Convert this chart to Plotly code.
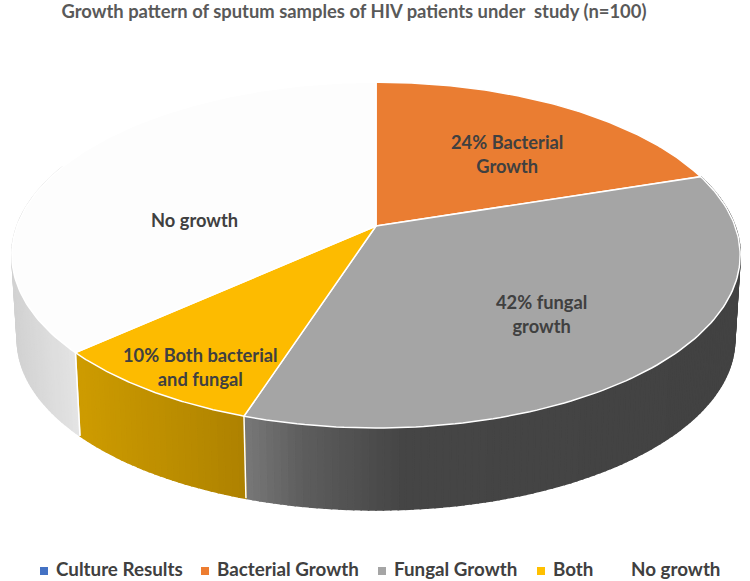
import numpy as np
import plotly.graph_objects as go

# --- data -------------------------------------------------------------
legend_names = ["Culture Results", "Bacterial Growth", "Fungal Growth", "Both", "No growth"]
legend_colors = ["#4472C4", "#ED7D31", "#A5A5A5", "#FFC000", "#FFFFFF"]
slice_names = ["Bacterial Growth", "Fungal Growth", "Both", "No growth"]
slice_values = [24, 42, 10, 44]
slice_colors = ["#EA7D32", "#A5A5A5", "#FDBB00", "#FDFDFD"]
title_text = "Growth pattern of sputum samples of HIV patients under  study (n=100)"
label_texts = ["24% Bacterial<br>Growth", "42% fungal<br>growth", "10% Both bacterial<br>and fungal", "No growth"]

# --- layout / style ---------------------------------------------------
label_xy = [(507, 154), (541, 314), (200, 367), (194, 220)]
legend_marker_x = [44, 205, 382, 541, 619]
legend_text_x = [56, 217, 394, 553, 631]
LEGEND_Y = 571
wall_stops = {
    "Fungal Growth": ([245, 300, 400, 760], ["#787878", "#5E5E5E", "#464646", "#424242"]),
    "Both": ([77, 245], ["#CE9C00", "#AE8200"]),
    "No growth": ([10, 80], ["#D2D2D2", "#E6E6E6"]),
}
CX, CY, A, B, K = 376.0, 226.0, 359.0, 168.0, 0.168
CY_LOW, SHRINK = 311.0, 0.985


def top(theta):
    u, v = np.sin(theta), np.cos(theta)
    w = 1 + K * v
    return CX + A * u / w, CY - B * v / w


def low(theta):
    u, v = np.sin(theta), np.cos(theta)
    w = 1 + K * v
    return CX + SHRINK * A * u / w, CY_LOW - SHRINK * B * v / w


def hex_rgb(h):
    return np.array([int(h[i:i + 2], 16) for i in (1, 3, 5)], dtype=float)


def shade(name, x):
    xs, cols = wall_stops[name]
    rgb = np.array([hex_rgb(c) for c in cols])
    return "rgb(%d,%d,%d)" % tuple(np.interp(x, xs, rgb[:, i]) for i in range(3))


edges = np.concatenate([[0], np.cumsum(slice_values)]) / np.sum(slice_values) * 2 * np.pi
fig = go.Figure()

# walls: narrow quads, then white seams
for i, name in enumerate(slice_names):
    if name not in wall_stops:
        continue
    t0, t1 = edges[i], edges[i + 1]
    t1 = min(t1, np.radians(292))
    n = max(2, int(np.degrees(t1 - t0)))
    ts = np.linspace(t0, t1, n + 1)
    for a, b in zip(ts[:-1], ts[1:]):
        xa, ya = top(a)
        xb, yb = top(b)
        xc, yc = low(b)
        xd, yd = low(a)
        col = shade(name, (xa + xb) / 2)
        fig.add_trace(go.Scatter(x=[xa, xb, xc, xd, xa], y=[ya, yb, yc, yd, ya], mode="lines",
                                 fill="toself", fillcolor=col, line=dict(color=col, width=1.6),
                                 showlegend=False, hoverinfo="skip"))

for e in edges[2:4]:
    xa, ya = top(e)
    xd, yd = low(e)
    fig.add_trace(go.Scatter(x=[xa, xd], y=[ya, yd], mode="lines", line=dict(color="white", width=1.5),
                             showlegend=False, hoverinfo="skip"))

# top faces
for i, name in enumerate(slice_names):
    ts = np.linspace(edges[i], edges[i + 1], 120)
    xs, ys = top(ts)
    fig.add_trace(go.Scatter(x=np.r_[CX, xs, CX], y=np.r_[CY, ys, CY], mode="lines", name=name,
                             fill="toself", fillcolor=slice_colors[i],
                             line=dict(color="white", width=1.5), showlegend=False, hoverinfo="name"))

# legend row
fig.add_trace(go.Scatter(x=legend_marker_x, y=[LEGEND_Y] * len(legend_names), mode="markers",
                         marker=dict(symbol="square", size=8, color=legend_colors),
                         showlegend=False, hoverinfo="skip"))
fig.add_trace(go.Scatter(x=legend_text_x, y=[LEGEND_Y] * len(legend_names), mode="text", text=legend_names,
                         textposition="middle right",
                         textfont=dict(family="Lato", size=18.8, color="#404040", weight="bold"),
                         showlegend=False, hoverinfo="skip"))

for txt, (x, y) in zip(label_texts, label_xy):
    fig.add_annotation(x=x, y=y, text=txt, showarrow=False, xref="x", yref="y", align="center",
                       font=dict(family="Lato", size=18.3, color="#404040", weight="bold"))

fig.update_layout(
    width=750, height=581, autosize=False, showlegend=False,
    margin=dict(l=0, r=0, t=0, b=0),
    paper_bgcolor="white", plot_bgcolor="white",
    xaxis=dict(range=[0, 750], visible=False, fixedrange=True),
    yaxis=dict(range=[581, 0], visible=False, fixedrange=True),
    title=dict(text=title_text, x=354 / 750, xanchor="center", y=1 - 12 / 581, yanchor="middle",
               font=dict(family="Lato", size=18.4, color="#595959", weight="bold")),
)

fig.write_html("out.html", config={"displayModeBar": False},
               post_script="document.body.style.margin='0';document.body.style.overflow='hidden';")
